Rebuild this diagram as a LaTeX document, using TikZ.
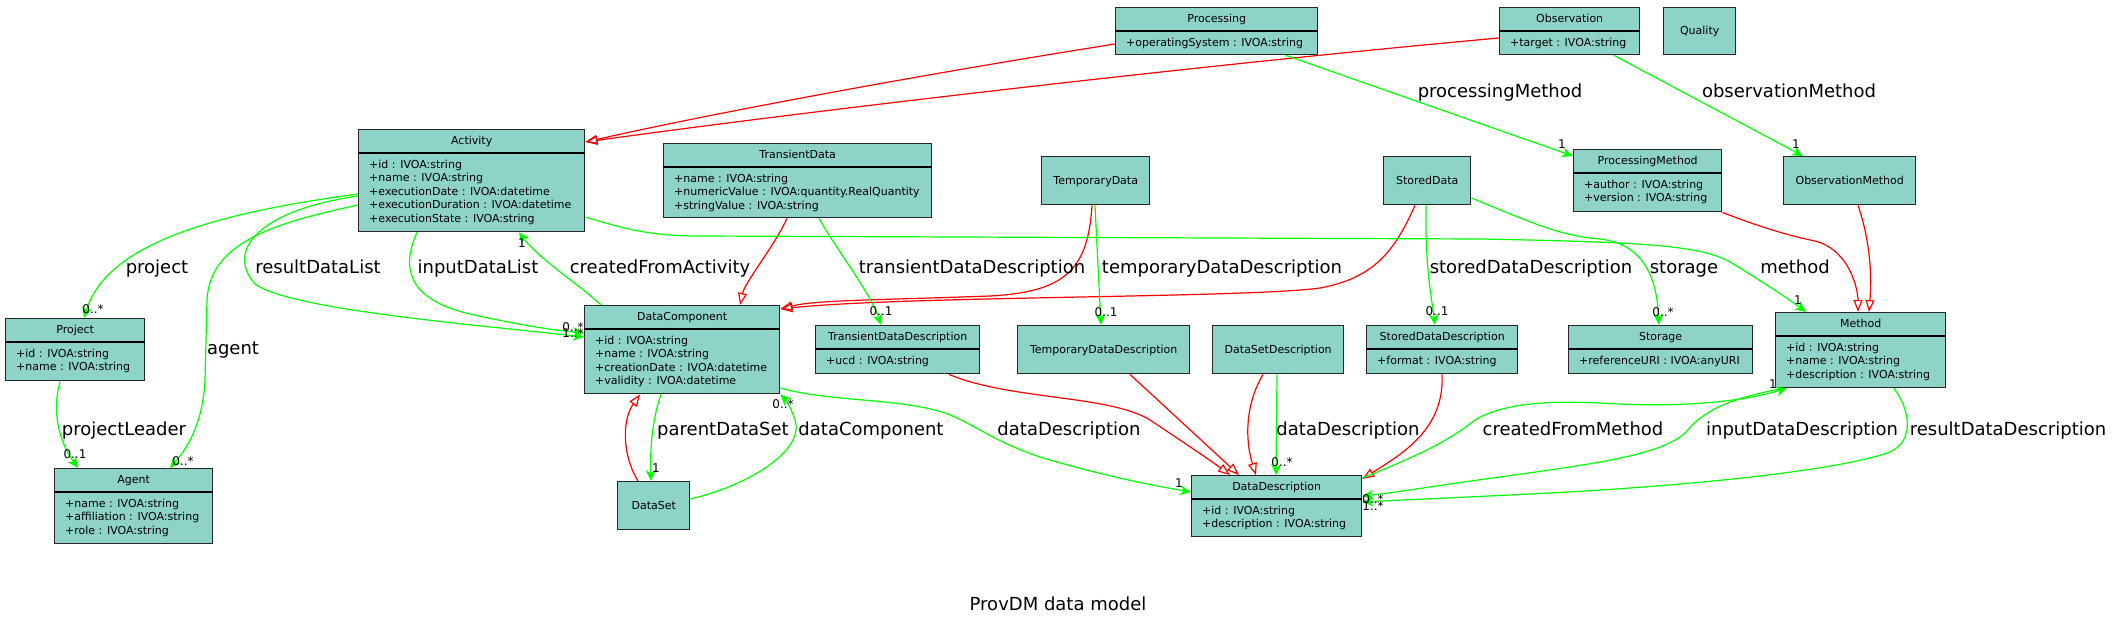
\documentclass[tikz,border=0pt]{standalone}
\usepackage{fontspec}
\setmainfont{DejaVu Sans}
\usetikzlibrary{arrows.meta}
\definecolor{classfill}{HTML}{8DD3C7}
\definecolor{assocgreen}{HTML}{00FF00}
\definecolor{genred}{HTML}{FF0000}
\newcommand{\boxfont}{\fontsize{11}{13.5}\selectfont}
\newcommand{\rolefont}{\fontsize{18}{22}\selectfont}
\newcommand{\multfont}{\fontsize{12}{14}\selectfont}
\tikzstyle{umlbox}=[draw=black!85, line width=1.4pt, fill=classfill, rectangle, anchor=north west, inner sep=0pt]
\tikzstyle{umlrule}=[draw=black, line width=1.6pt]
\tikzstyle{umltitle}=[anchor=base, inner sep=0pt, font=\boxfont]
\tikzstyle{umlattr}=[anchor=base west, inner sep=0pt, font=\boxfont]
\tikzstyle{assoc}=[draw=assocgreen, line width=1.2pt, -{Stealth[length=11pt, width=10pt, inset=3.5pt]}]
\tikzstyle{gen}=[draw=genred, line width=1.2pt, -{Triangle[open, length=12pt, width=9pt]}]
\tikzstyle{role}=[anchor=base, inner sep=0pt, font=\rolefont]
\tikzstyle{mult}=[anchor=base, inner sep=0pt, font=\multfont]
% class with name and attributes: name, x, y, width, height, title, attributes
\newcommand{\umlclass}[7]{%
  \node[umlbox, minimum width=#4pt, minimum height=#5pt] (#1) at (#2,#3) {};
  \draw[umlrule] ([yshift=-24pt]#1.north west) -- ([yshift=-24pt]#1.north east);
  \node[umltitle] (#1-name) at ([yshift=-15pt]#1.north) {#6};
  \node[umlattr] (#1-attrs) at ([xshift=11pt,yshift=-39pt]#1.north west)
    {\begin{tabular}[t]{@{}l@{}}#7\end{tabular}};}
% class with name only
\newcommand{\umlplain}[6]{%
  \node[umlbox, minimum width=#4pt, minimum height=#5pt] (#1) at (#2,#3) {};
  \node[umltitle] (#1-name) at ([yshift=-3.5pt]#1.center) {#6};}

\begin{document}
\begin{tikzpicture}[x=1pt, y=-1pt]
  \path[use as bounding box, fill=white] (0,0) rectangle (2115,627);

  % classes
  \umlclass{processing}{1115}{7}{202}{47}{Processing}{+operatingSystem : IVOA:string}
  \umlclass{observation}{1499}{7}{140}{47}{Observation}{+target : IVOA:string}
  \umlplain{quality}{1663}{7}{72}{47}{Quality}
  \umlclass{activity}{358}{129}{226}{102}{Activity}{+id : IVOA:string\\+name : IVOA:string\\+executionDate : IVOA:datetime\\+executionDuration : IVOA:datetime\\+executionState : IVOA:string}
  \umlclass{transientdata}{663}{143}{268}{74}{TransientData}{+name : IVOA:string\\+numericValue : IVOA:quantity.RealQuantity\\+stringValue : IVOA:string}
  \umlplain{temporarydata}{1041}{156}{108}{48}{TemporaryData}
  \umlplain{storeddata}{1383}{156}{87}{48}{StoredData}
  \umlclass{processingmethod}{1573}{149}{148}{62}{ProcessingMethod}{+author : IVOA:string\\+version : IVOA:string}
  \umlplain{observationmethod}{1783}{156}{132}{48}{ObservationMethod}
  \umlclass{project}{5}{318}{139}{62}{Project}{+id : IVOA:string\\+name : IVOA:string}
  \umlclass{datacomponent}{584}{305}{195}{88}{DataComponent}{+id : IVOA:string\\+name : IVOA:string\\+creationDate : IVOA:datetime\\+validity : IVOA:datetime}
  \umlclass{transientdesc}{815}{325}{164}{48}{TransientDataDescription}{+ucd : IVOA:string}
  \umlplain{temporarydesc}{1017}{325}{172}{48}{TemporaryDataDescription}
  \umlplain{datasetdesc}{1212}{325}{131}{48}{DataSetDescription}
  \umlclass{storeddesc}{1366}{325}{151}{48}{StoredDataDescription}{+format : IVOA:string}
  \umlclass{storage}{1568}{325}{184}{48}{Storage}{+referenceURI : IVOA:anyURI}
  \umlclass{method}{1775}{312}{170}{75}{Method}{+id : IVOA:string\\+name : IVOA:string\\+description : IVOA:string}
  \umlclass{agent}{54}{468}{158}{75}{Agent}{+name : IVOA:string\\+affiliation : IVOA:string\\+role : IVOA:string}
  \umlplain{dataset}{617}{481}{72}{48}{DataSet}
  \umlclass{datadesc}{1191}{475}{170}{61}{DataDescription}{+id : IVOA:string\\+description : IVOA:string}

  % generalisations
  \draw[gen] (processing.west |- 0,44) .. controls (900,78) and (700,116) .. (activity.east |- 0,142);
  \draw[gen] (observation.west |- 0,38) .. controls (1200,65) and (800,112) .. (activity.east |- 0,142);
  \draw[gen] (transientdata.south -| 787,0) .. controls (775,245) and (745,282) .. (datacomponent.north -| 740,0);
  \draw[gen] (temporarydata.south -| 1092,0) .. controls (1088,270) and (1065,292) .. (990,296) .. controls (880,300) and (815,300) .. (datacomponent.east |- 0,309);
  \draw[gen] (storeddata.south -| 1415,0) .. controls (1395,250) and (1375,278) .. (1320,288) .. controls (1250,298) and (900,296) .. (datacomponent.east |- 0,309);
  \draw[gen] (transientdesc.south -| 949,0) .. controls (1010,400) and (1110,395) .. (1150,420) .. controls (1180,440) and (1210,460) .. (datadesc.north -| 1230,0);
  \draw[gen] (temporarydesc.south -| 1130,0) -- (datadesc.north -| 1239,0);
  \draw[gen] (datasetdesc.south -| 1263,0) .. controls (1245,405) and (1245,440) .. (datadesc.north -| 1256,0);
  \draw[gen] (storeddesc.south -| 1442,0) .. controls (1445,430) and (1400,455) .. (datadesc.east |- 0,479);
  \draw[gen] (dataset.north -| 638,0) .. controls (622,455) and (622,420) .. (datacomponent.south -| 640,0);
  \draw[gen] (processingmethod.south east) .. controls (1760,227) and (1790,236) .. (1815,241) .. controls (1850,250) and (1858,290) .. (method.north -| 1858,0);
  \draw[gen] (observationmethod.south -| 1858,0) .. controls (1870,240) and (1872,275) .. (method.north -| 1869,0);

  % associations
  \draw[assoc] (activity.west |- 0,194) .. controls (200,215) and (105,248) .. (project.north -| 84,0);
  \draw[assoc] (activity.west |- 0,205) .. controls (280,222) and (210,240) .. (207,300) -- (205,380) .. controls (203,420) and (190,445) .. (agent.north -| 170,0);
  \draw[assoc] (activity.west |- 0,196) .. controls (260,210) and (225,250) .. (255,284) .. controls (290,310) and (480,325) .. (datacomponent.west |- 0,337);
  \draw[assoc] (activity.south -| 417,0) .. controls (400,270) and (410,300) .. (470,314) .. controls (510,323) and (550,330) .. (datacomponent.west |- 0,333);
  \draw[assoc] (datacomponent.north -| 601,0) .. controls (580,285) and (540,260) .. (activity.south -| 519,0);
  \draw[assoc] (activity.east |- 0,217) .. controls (625,229) and (650,236) .. (700,236) -- (1480,239) .. controls (1640,242) and (1700,245) .. (1730,262) .. controls (1760,280) and (1790,300) .. (method.north -| 1806,0);
  \draw[assoc] (transientdata.south -| 819,0) .. controls (840,255) and (870,292) .. (transientdesc.north -| 881,0);
  \draw[assoc] (temporarydata.south -| 1095,0) -- (temporarydesc.north -| 1101,0);
  \draw[assoc] (storeddata.south -| 1426,0) .. controls (1425,270) and (1432,300) .. (storeddesc.north -| 1435,0);
  \draw[assoc] (storeddata.east |- 0,198) .. controls (1530,222) and (1560,236) .. (1600,239) .. controls (1645,244) and (1657,280) .. (storage.north -| 1659,0);
  \draw[assoc] (processing.south -| 1286,0) -- (processingmethod.west |- 0,156);
  \draw[assoc] (observation.south -| 1614,0) -- (observationmethod.north -| 1803,0);
  \draw[assoc] (dataset.east |- 0,499) .. controls (750,485) and (805,450) .. (795,420) .. controls (792,410) and (786,400) .. (datacomponent.south east);
  \draw[assoc] (datacomponent.south -| 661,0) .. controls (652,420) and (650,450) .. (dataset.north -| 651,0);
  \draw[assoc] (datacomponent.east |- 0,388) .. controls (830,402) and (900,398) .. (945,413) .. controls (975,424) and (990,440) .. (1040,457) .. controls (1100,475) and (1150,485) .. (datadesc.west |- 0,492);
  \draw[assoc] (datasetdesc.south -| 1277,0) -- (datadesc.north -| 1276,0);
  \draw[assoc] (datadesc.east |- 0,478) .. controls (1420,455) and (1450,440) .. (1475,420) .. controls (1500,405) and (1540,400) .. (1600,403) .. controls (1680,408) and (1740,402) .. (method.south -| 1787,0);
  \draw[assoc] (method.south -| 1783,0) .. controls (1720,400) and (1700,415) .. (1685,433) .. controls (1660,455) and (1600,463) .. (1500,477) .. controls (1440,485) and (1400,492) .. (datadesc.east |- 0,496);
  \draw[assoc] (method.south -| 1894,0) .. controls (1910,410) and (1915,440) .. (1890,452) .. controls (1840,470) and (1700,485) .. (1550,493) .. controls (1450,498) and (1400,500) .. (datadesc.east |- 0,502);
  \draw[assoc] (project.south -| 60,0) .. controls (52,410) and (58,440) .. (agent.north -| 78,0);

  % role names
  \node[role] (l-project) at (157,273) {project};
  \node[role] (l-agent) at (233,354) {agent};
  \node[role] (l-result) at (318,273) {resultDataList};
  \node[role] (l-input) at (478,273) {inputDataList};
  \node[role] (l-created) at (660,273) {createdFromActivity};
  \node[role] (l-transient) at (972,273) {transientDataDescription};
  \node[role] (l-temporary) at (1222,273) {temporaryDataDescription};
  \node[role] (l-stored) at (1531,273) {storedDataDescription};
  \node[role] (l-storage) at (1684,273) {storage};
  \node[role] (l-method) at (1795,273) {method};
  \node[role] (l-procmethod) at (1500,97) {processingMethod};
  \node[role] (l-obsmethod) at (1789,97) {observationMethod};
  \node[role] (l-leader) at (124,435) {projectLeader};
  \node[role] (l-parent) at (723,435) {parentDataSet};
  \node[role] (l-component) at (871,435) {dataComponent};
  \node[role] (l-desc1) at (1069,435) {dataDescription};
  \node[role] (l-desc2) at (1348,435) {dataDescription};
  \node[role] (l-frommethod) at (1573,435) {createdFromMethod};
  \node[role] (l-inputdesc) at (1802,435) {inputDataDescription};
  \node[role] (l-resultdesc) at (2008,435) {resultDataDescription};

  % multiplicities
  \node[mult] (m-project) at (93,313) {0..*};
  \node[mult] (m-agent) at (183,465) {0..*};
  \node[mult] (m-leader) at (75,458) {0..1};
  \node[mult] (m-result) at (573,337) {1..*};
  \node[mult] (m-input) at (573,331) {0..*};
  \node[mult] (m-created) at (522,247) {1};
  \node[mult] (m-method) at (1798,304) {1};
  \node[mult] (m-transient) at (881,315) {0..1};
  \node[mult] (m-temporary) at (1106,316) {0..1};
  \node[mult] (m-stored) at (1437,315) {0..1};
  \node[mult] (m-storage) at (1663,316) {0..*};
  \node[mult] (m-procmethod) at (1562,148) {1};
  \node[mult] (m-obsmethod) at (1796,148) {1};
  \node[mult] (m-parent) at (656,472) {1};
  \node[mult] (m-component) at (783,408) {0..*};
  \node[mult] (m-desc1) at (1179,487) {1};
  \node[mult] (m-desc2) at (1282,466) {0..*};
  \node[mult] (m-frommethod) at (1773,388) {1};
  \node[mult] (m-inputdesc) at (1373,503) {0..*};
  \node[mult] (m-resultdesc) at (1373,510) {1..*};

  \node[role] (title) at (1058,610) {ProvDM data model};
\end{tikzpicture}
\end{document}
